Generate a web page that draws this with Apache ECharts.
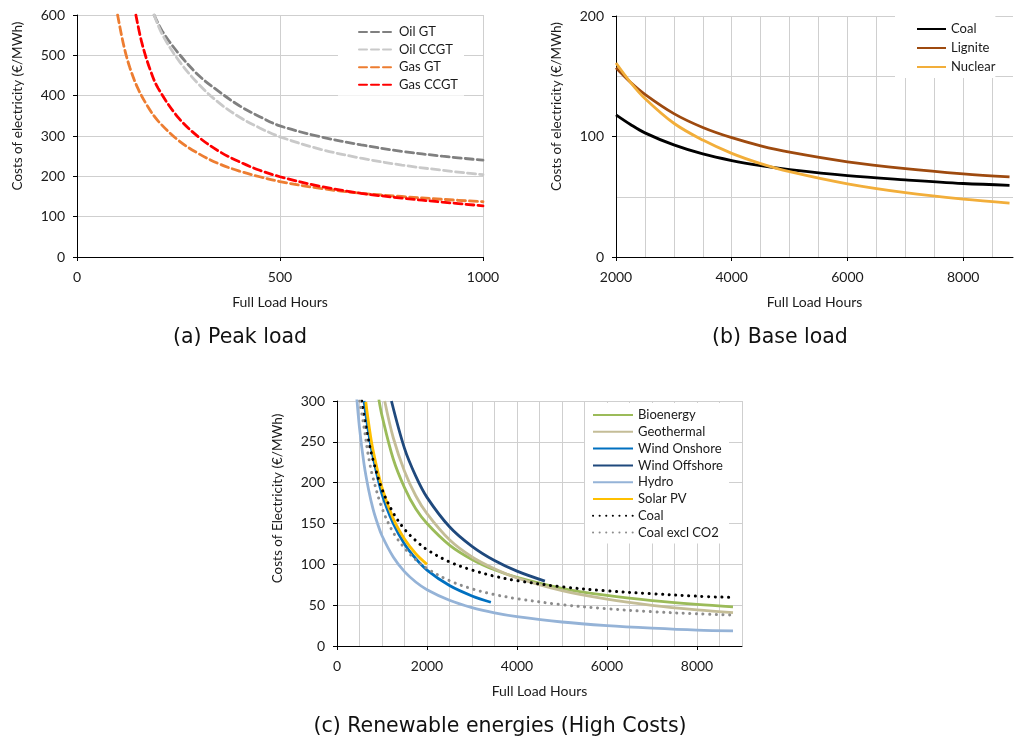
<!DOCTYPE html>
<html>
<head>
<meta charset="utf-8">
<script src="https://cdn.jsdelivr.net/npm/echarts@6/dist/echarts.min.js"></script>
<style>
html,body{margin:0;padding:0;background:#fff;}
#main{width:1014px;height:742px;}
</style>
</head>
<body>
<div id="main"></div>
<script>
// ---------- (a) Peak load : [full load hours, €/MWh] ----------
const oilGT   = [[190,600],[210,560],[250,505],[300,450],[350,410],[400,375],[450,348],[500,325],[600,298],[700,278],[800,262],[900,250],[1000,240]];
const oilCCGT = [[190,600],[210,552],[250,488],[300,428],[350,382],[400,347],[450,320],[500,298],[600,267],[700,245],[800,228],[900,215],[1000,204]];
const gasGT   = [[100,600],[115,525],[130,470],[150,418],[175,372],[200,337],[250,289],[300,256],[350,231],[400,213],[450,199],[500,187],[600,170],[700,158],[800,150],[900,143],[1000,137]];
const gasCCGT = [[145,600],[160,530],[180,465],[200,418],[250,345],[300,297],[350,262],[400,236],[450,215],[500,199],[600,175],[700,158],[800,146],[900,136],[1000,127]];

// ---------- (b) Base load ----------
const coalB    = [[2000,118],[2250,110],[2500,103],[3000,93],[3500,85.5],[4000,80],[4500,75.8],[5000,72.5],[6000,67.5],[7000,64],[8000,61],[8800,59.5]];
const ligniteB = [[2000,157],[2250,145],[2500,135],[3000,119],[3500,107.5],[4000,99],[4500,92.3],[5000,87],[6000,79],[7000,73.3],[8000,69],[8800,66.5]];
const nuclearB = [[2000,161],[2250,145],[2500,131.6],[3000,111],[3500,97],[4000,86],[4500,77.5],[5000,70.8],[6000,60.7],[7000,53.4],[8000,48],[8800,44.7]];

// ---------- (c) Renewable energies (High Costs) ----------
const bioenergy   = [[930,302],[1000,282],[1250,229],[1500,194],[1750,168],[2000,150],[2500,123.6],[3000,106],[3500,93.3],[4000,84],[5000,70.7],[6000,61.9],[7000,55.6],[8000,50.9],[8800,48]];
const geothermal  = [[1060,300],[1250,255],[1500,214],[1750,184],[2000,162],[2500,130],[3000,109],[3500,94.5],[4000,83.3],[5000,67.7],[6000,57.3],[7000,49.8],[8000,44.2],[8800,40.8]];
const windOn      = [[600,300],[700,262],[800,232],[1000,186],[1250,150],[1500,125],[1750,107],[2000,93],[2500,74],[3000,61.3],[3420,53.6]];
const windOff     = [[1210,300],[1500,242],[1750,208],[2000,182],[2500,146],[3000,122],[3500,104.6],[4000,91.7],[4620,79.5]];
const hydro       = [[420,317],[500,267],[600,223],[700,192],[800,168],[900,150],[1000,135],[1250,109],[1500,91],[1750,78.4],[2000,69],[2500,56],[3000,47],[3500,40.7],[4000,36],[5000,29.4],[6000,25],[7000,21.9],[8000,19.5],[8800,18.5]];
const solarPV     = [[640,299],[700,274],[800,240],[1000,194],[1250,156],[1500,131],[1750,113],[2000,100]];
const coalC       = [[550,300],[600,282],[700,252],[800,228],[1000,192],[1250,163],[1500,143],[1750,129],[2000,118],[2500,103],[3000,93],[3500,85.5],[4000,80],[5000,72.5],[6000,67.5],[7000,64],[8000,61],[8760,59.5]];
const coalExclCO2 = [[505,300],[600,268],[700,232],[800,206],[1000,169],[1250,139],[1500,120],[1750,105.6],[2000,95],[2500,80],[3000,70],[3500,63],[4000,58],[5000,50.6],[6000,45.7],[7000,42],[8000,39.5],[8760,38]];

// ---------- tick labels ----------
const xTicksA = [0, 500, 1000];
const yTicksA = [0, 100, 200, 300, 400, 500, 600];
const xTicksB = [2000, 4000, 6000, 8000];
const yTicksB = [0, 100, 200];
const xTicksC = [0, 2000, 4000, 6000, 8000];
const yTicksC = [0, 50, 100, 150, 200, 250, 300];

const FONT = 'Lato';
const TXT = '#1a1a1a';
const GRID = '#cfcfcf';
const plain = function (v) { return String(v); };

// main axis: axis line, grid lines (every interval), labels at the tick-label list
function xAxisCfg(gi, min, max, interval, ticks, showMax, ownTicks) {
  return {
    type: 'value', gridIndex: gi, min: min, max: max, interval: interval, position: 'bottom',
    name: 'Full Load Hours', nameLocation: 'middle', nameGap: 38,
    nameTextStyle: {fontFamily: FONT, fontSize: 14, color: TXT},
    axisLine: {show: true, onZero: false, lineStyle: {color: '#000', width: 1}},
    axisTick: {show: ownTicks, length: 4, lineStyle: {color: '#000'}},
    axisLabel: {customValues: ticks, formatter: plain, margin: 13, fontFamily: FONT, fontSize: 14, color: TXT},
    splitLine: {show: true, showMinLine: false, showMaxLine: showMax, lineStyle: {color: GRID, width: 1}}
  };
}
function yAxisCfg(gi, min, max, interval, ticks, name, ownTicks, shift) {
  return {
    type: 'value', gridIndex: gi, min: min, max: max, interval: interval, position: 'left',
    name: name, nameLocation: 'middle', nameGap: 52,
    nameTextStyle: {fontFamily: FONT, fontSize: 13.5, color: TXT, padding: [0, 0, 0, shift]},
    axisLine: {show: true, onZero: false, lineStyle: {color: '#000', width: 1}},
    axisTick: {show: ownTicks, length: 4, lineStyle: {color: '#000'}},
    axisLabel: {customValues: ticks, formatter: plain, margin: 12, fontFamily: FONT, fontSize: 14, color: TXT},
    splitLine: {show: true, showMinLine: false, showMaxLine: true, lineStyle: {color: GRID, width: 1}}
  };
}
// tick-only companion axis: short outward ticks at the labelled values
function tickAxis(gi, min, max, ticks, pos) {
  return {
    type: 'value', gridIndex: gi, min: min, max: max, position: pos,
    axisLine: {show: false, onZero: false},
    axisTick: {show: true, length: 4, customValues: ticks, lineStyle: {color: '#000'}},
    axisLabel: {show: false}, splitLine: {show: false}
  };
}
function line(name, data, gi, color, type, width) {
  return {
    name: name, type: 'line', xAxisIndex: gi, yAxisIndex: gi, data: data,
    showSymbol: false, symbol: 'none', smooth: 0.35, clip: true,
    lineStyle: {color: color, width: width || 2.8, type: type || 'solid', cap: Array.isArray(type) ? 'round' : 'butt'},
    itemStyle: {color: color},
    emphasis: {disabled: true}, animation: false, z: 3
  };
}

const chart = echarts.init(document.getElementById('main'), null, {renderer: 'canvas'});
const legendText = {fontFamily: FONT, fontSize: 13, color: TXT, lineHeight: 14};
const titleStyle = {fontFamily: 'DejaVu Sans', fontSize: 20.5, fill: '#111', align: 'center', verticalAlign: 'middle'};

chart.setOption({
  backgroundColor: '#fff',
  animation: false,
  grid: [
    {left: 77, top: 15, width: 406, height: 242},
    {left: 616, top: 16, width: 397, height: 241},
    {left: 337, top: 401, width: 405, height: 245}
  ],
  xAxis: [
    xAxisCfg(0, 0, 1000, 500, xTicksA, true, true),
    xAxisCfg(1, 2000, 8860, 500, xTicksB, false, false),
    xAxisCfg(2, 0, 9000, 500, xTicksC, true, false),
    tickAxis(1, 2000, 8860, xTicksB, 'bottom'),
    tickAxis(2, 0, 9000, xTicksC, 'bottom')
  ],
  yAxis: [
    yAxisCfg(0, 0, 600, 100, yTicksA, 'Costs of electricity (€/MWh)', true, 60),
    yAxisCfg(1, 0, 200, 50, yTicksB, 'Costs of electricity (€/MWh)', false, 60),
    yAxisCfg(2, 0, 300, 50, yTicksC, 'Costs of Electricity (€/MWh)', true, 50),
    tickAxis(1, 0, 200, yTicksB, 'left')
  ],
  legend: [
    {
      orient: 'vertical', left: 338, top: 21, padding: [4, 6, 4, 20], itemGap: 3.6,
      itemWidth: 35, itemHeight: 10, backgroundColor: '#fff', itemStyle: {opacity: 0},
      data: ['Oil GT', 'Oil CCGT', 'Gas GT', 'Gas CCGT'], textStyle: legendText,
      selectedMode: false
    },
    {
      orient: 'vertical', left: 895, top: 16, padding: [6, 0, 4, 21], itemGap: 5,
      itemWidth: 29, itemHeight: 10, backgroundColor: '#fff', itemStyle: {opacity: 0},
      data: ['Coal', 'Lignite', 'Nuclear'], textStyle: legendText,
      selectedMode: false
    },
    {
      orient: 'vertical', left: 585, top: 403, padding: [5, 6, 4, 7], itemGap: 2.8,
      itemWidth: 40, itemHeight: 10, backgroundColor: '#fff', itemStyle: {opacity: 0},
      data: ['Bioenergy', 'Geothermal', 'Wind Onshore', 'Wind Offshore', 'Hydro', 'Solar PV', 'Coal (c)', 'Coal excl CO2'],
      formatter: function (n) { return n.replace(' (c)', ''); },
      textStyle: legendText, selectedMode: false
    }
  ],
  series: [
    line('Oil GT', oilGT, 0, '#808080', [8, 4], 2.8),
    line('Oil CCGT', oilCCGT, 0, '#c9c9c9', [8, 4], 2.8),
    line('Gas GT', gasGT, 0, '#ed7d31', [8, 4], 2.8),
    line('Gas CCGT', gasCCGT, 0, '#ff0000', [8, 4], 2.8),

    line('Coal', coalB, 1, '#000000'),
    line('Lignite', ligniteB, 1, '#9e4a0f'),
    line('Nuclear', nuclearB, 1, '#f2ae3a'),

    line('Bioenergy', bioenergy, 2, '#9bbb59'),
    line('Geothermal', geothermal, 2, '#c4bd97'),
    line('Wind Onshore', windOn, 2, '#0070c0'),
    line('Wind Offshore', windOff, 2, '#1f497d'),
    line('Hydro', hydro, 2, '#95b3d7'),
    line('Solar PV', solarPV, 2, '#ffc000'),
    line('Coal (c)', coalC, 2, '#000000', [0.1, 6.5], 3),
    line('Coal excl CO2', coalExclCO2, 2, '#8c8c8c', [0.1, 6.5], 3)
  ],
  graphic: [
    {type: 'text', x: 240, y: 338, style: Object.assign({text: '(a) Peak load'}, titleStyle)},
    {type: 'text', x: 780, y: 338, style: Object.assign({text: '(b) Base load'}, titleStyle)},
    {type: 'text', x: 500, y: 727, style: Object.assign({text: '(c) Renewable energies (High Costs)'}, titleStyle)}
  ]
});
</script>
</body>
</html>
